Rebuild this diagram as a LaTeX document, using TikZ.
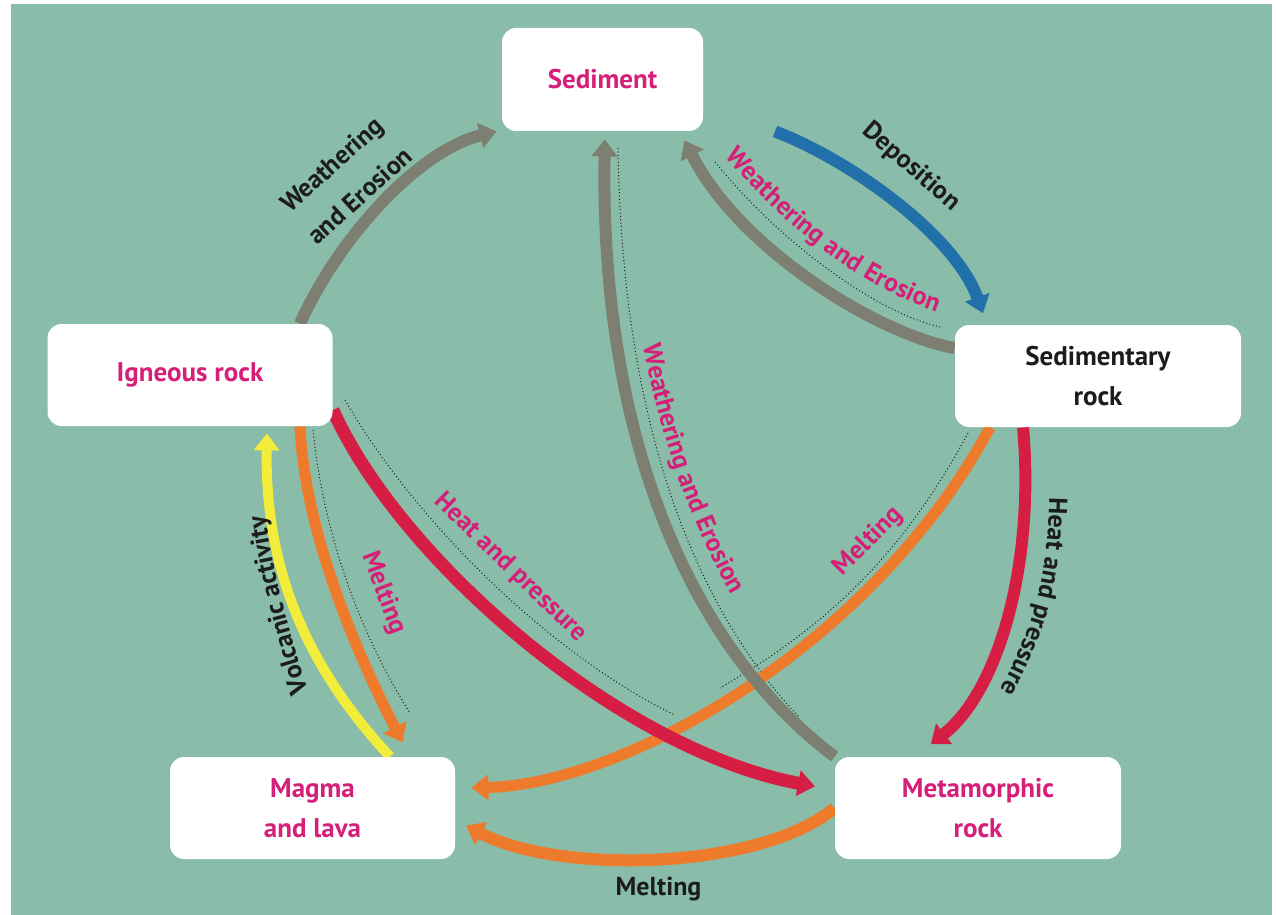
\documentclass[tikz,border=0pt]{standalone}
\usepackage{fontspec}
\setmainfont{PT Sans}
\usetikzlibrary{arrows.meta,decorations.text}
\definecolor{bggreen}{HTML}{89BDA9}
\definecolor{rgray}{HTML}{7D7F72}
\definecolor{rblue}{HTML}{2270A9}
\definecolor{rred}{HTML}{D61E45}
\definecolor{rorange}{HTML}{EE7B2B}
\definecolor{ryellow}{HTML}{F2EC3A}
\definecolor{pinkt}{HTML}{D51F78}
\definecolor{darkt}{HTML}{1C1C1C}
\pgfdeclarelayer{back}
\pgfdeclarelayer{mid}
\pgfsetlayers{back,mid,main}
\begin{document}
\begin{tikzpicture}[x=0.5pt,y=0.5pt,
  box/.style={fill=white, rounded corners=7pt, align=center, inner sep=0pt,
    minimum width=142.5pt, minimum height=51pt, font=\fontsize{13.5}{20}\selectfont\bfseries},
  flow/.style={-{Triangle[length=8.5pt,width=12.5pt]}},
  wgray/.style={flow, draw=rgray, line width=6pt},
  wblue/.style={flow, draw=rblue, line width=6pt},
  wred/.style={flow, draw=rred, line width=6.5pt},
  worange/.style={flow, draw=rorange, line width=5.5pt},
  wyellow/.style={flow, draw=ryellow, line width=5pt},
  dots/.style={draw=darkt, line width=0.5pt, dash pattern=on 0.5pt off 1.2pt},
  lbl/.style={font=\fontsize{13}{21}\selectfont\bfseries, inner sep=0pt, align=center},
  plbl/.style={lbl, text=pinkt},
  blbl/.style={lbl, text=darkt}]
\fontsize{13}{19}\selectfont\bfseries
\useasboundingbox (0,0) rectangle (1276,-915);
\begin{pgfonlayer}{back}
\fill[white] (0,0) rectangle (1276,-915);
\fill[bggreen] (11,-4) rectangle (1272,-915);
\end{pgfonlayer}

% boxes
\node[box, minimum width=100.5pt, minimum height=51.5pt, text=pinkt] (sed) at (602.5,-79.5) {Sediment};
\node[box, text=pinkt] (ign) at (190,-375) {Igneous rock};
\node[box, minimum width=143pt, text=darkt] (sedr) at (1098,-376) {Sedimentary\\rock};
\node[box, text=pinkt] (mag) at (312.5,-808) {Magma\\and lava};
\node[box, minimum width=143pt, text=pinkt] (met) at (978,-808) {Metamorphic\\rock};

\begin{pgfonlayer}{mid}
% dotted guide lines
\draw[dots] (715,-162) .. controls (780,-242) and (875,-312) .. (940,-327);
\draw[dots] (618,-148) .. controls (622,-420) and (692,-605) .. (800,-718);
\draw[dots] (968,-433) .. controls (900,-560) and (820,-630) .. (720,-688);
\draw[dots] (345,-400) .. controls (420,-530) and (560,-660) .. (675,-715);
\draw[dots] (313,-430) .. controls (325,-550) and (370,-650) .. (410,-713);
% arrows
\draw[wgray] (ign.north -| 300,0) .. controls (340,-235) and (420,-150) .. ([xshift=-2.5pt]sed.south west);
\draw[wblue, shorten >=6pt] (sed.south -| 775,0) .. controls (850,-160) and (955,-235) .. (sedr.north -| 987,0);
\draw[wgray, shorten >=5pt] (sedr.west |- 0,-348) .. controls (880,-335) and (740,-250) .. (sed.south -| 680,0);
\draw[worange, shorten >=8pt] (sedr.south -| 990,0) .. controls (870,-650) and (620,-785) .. (mag.east |- 0,-788);
\draw[worange, line width=6pt, shorten >=6pt] (met.west) .. controls (760,-870) and (560,-875) .. (mag.east |- 0,-820);
\draw[worange, shorten >=8pt] (ign.south -| 300,0) .. controls (305,-540) and (365,-670) .. (mag.north -| 410,0);
\draw[wyellow, shorten >=3.5pt] (mag.north -| 390,0) .. controls (300,-660) and (265,-560) .. (ign.south -| 267,0);
\draw[wred, shorten >=10pt] (ign.east |- 0,-410) .. controls (400,-560) and (620,-750) .. (met.west |- 0,-790);
\draw[wred, line width=6pt, shorten >=10pt] (sedr.south -| 1023,0) .. controls (1035,-560) and (1000,-690) .. (met.north -| 915,0);
\draw[wgray, shorten >=4pt] (met.north west) .. controls (680,-640) and (600,-420) .. (sed.south -| 605,0);
\end{pgfonlayer}

% labels
\node[blbl, rotate=42] (lwe1) at (345.5,-180) {Weathering\\and Erosion};
\node[blbl, rotate=-41] (ldep) at (911,-167) {Deposition};
\node[plbl, rotate=-44] (lhp1) at (510.5,-568) {Heat and pressure};
\node[plbl, rotate=-69] (lme1) at (383.5,-593) {Melting};
\node[plbl, rotate=45] (lme2) at (868.5,-541.5) {Melting};
\node[blbl] (lme3) at (658.5,-889) {Melting};
\path[decorate, decoration={text along path, text={Weathering and Erosion}, text align=center, text color=pinkt}]
  (700,-125) .. controls (775,-225) and (880,-305) .. (975,-322);
\path[decorate, decoration={text along path, text={Weathering and Erosion}, text align=center, text color=pinkt}]
  (634,-280) .. controls (646,-410) and (698,-560) .. (768,-650);
\path[decorate, decoration={text along path, text={Heat and pressure}, text align=center, text color=darkt}]
  (1048,-430) .. controls (1055,-560) and (1040,-650) .. (960,-745);
\path[decorate, decoration={text along path, text={Volcanic activity}, text align=center, text color=darkt}]
  (323,-735) .. controls (290,-640) and (267,-560) .. (260,-470);
\end{tikzpicture}
\end{document}
